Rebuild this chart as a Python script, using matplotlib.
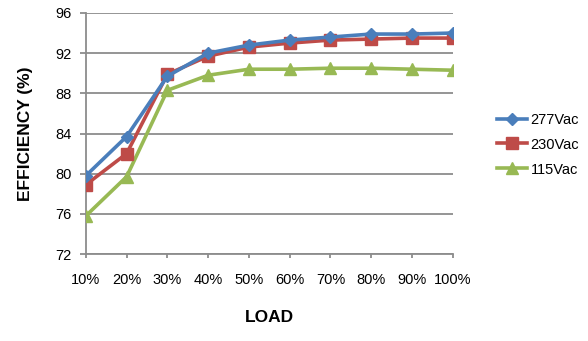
import numpy as np
import matplotlib
matplotlib.use('Agg')
import matplotlib.pyplot as plt

# Data
loads = ['10%', '20%', '30%', '40%', '50%', '60%', '70%', '80%', '90%', '100%']
eff_277 = [79.8, 83.7, 89.7, 92.0, 92.8, 93.3, 93.6, 93.9, 93.9, 94.0]
eff_230 = [78.9, 82.0, 89.9, 91.7, 92.6, 93.0, 93.3, 93.4, 93.5, 93.5]
eff_115 = [75.8, 79.7, 88.3, 89.8, 90.4, 90.4, 90.5, 90.5, 90.4, 90.3]
series_names = ['277Vac', '230Vac', '115Vac']
y_ticks = [72, 76, 80, 84, 88, 92, 96]

plt.rcParams['font.family'] = ['Liberation Sans', 'DejaVu Sans']

fig = plt.figure(figsize=(5.88, 3.41), dpi=100)
ax = fig.add_axes([0.146, 0.255, 0.624, 0.707])

x = np.arange(len(loads))
ax.plot(x, eff_277, '-D', color='#4a7ebb', lw=2.6, ms=6, label=series_names[0], zorder=5)
ax.plot(x, eff_230, '-s', color='#be4b48', lw=2.6, ms=8, label=series_names[1], zorder=4)
ax.plot(x, eff_115, '-^', color='#98b954', lw=2.6, ms=8.5, label=series_names[2], zorder=3)

ax.set_xlim(0, len(loads) - 1)
ax.set_ylim(72, 96)
ax.set_yticks(y_ticks)
ax.set_xticks(x)
ax.set_xticklabels(loads)
ax.yaxis.grid(True, color='#8c8c8c', lw=1.3)
ax.set_axisbelow(True)
for s in ['top', 'right']:
    ax.spines[s].set_visible(False)
for s in ['left', 'bottom']:
    ax.spines[s].set_color('#8c8c8c')
    ax.spines[s].set_linewidth(1.3)
ax.tick_params(axis='both', colors='#8c8c8c', labelcolor='black', labelsize=10.5, width=1.3)
ax.tick_params(axis='x', length=3, pad=11)
ax.tick_params(axis='y', length=4.3, pad=6)

ax.set_xlabel('LOAD', fontsize=12.5, fontweight='bold', labelpad=16)
ax.set_ylabel('EFFICIENCY (%)', fontsize=12.5, fontweight='bold', labelpad=16)

fig.legend(loc='center left', bbox_to_anchor=(0.845, 0.576), frameon=False,
           borderpad=0, borderaxespad=0, fontsize=10.5, handlelength=2.1,
           labelspacing=0.75, handletextpad=0.2)

fig.savefig('out.png', dpi=100)
